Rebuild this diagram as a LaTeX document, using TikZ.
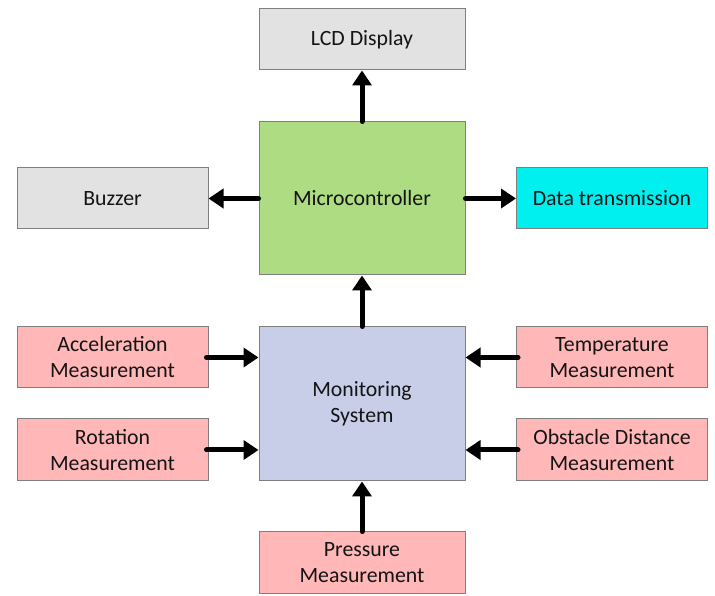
\documentclass[tikz,border=0pt]{standalone}
\usepackage{fontspec}
\setmainfont{Carlito}
\usetikzlibrary{positioning,calc,arrows.meta}

\definecolor{boxline}{RGB}{127,127,127}
\definecolor{greybox}{RGB}{226,226,226}
\definecolor{greenbox}{RGB}{174,220,130}
\definecolor{cyanbox}{RGB}{0,240,240}
\definecolor{bluebox}{RGB}{200,206,232}
\definecolor{pinkbox}{RGB}{255,183,183}
\definecolor{textcol}{RGB}{20,20,20}

\begin{document}
\begin{tikzpicture}
    [x=1pt,y=1pt,
     block/.style={draw=boxline,line width=1pt,align=center,inner sep=0pt,
                   text=textcol,font=\fontsize{21.8}{26}\selectfont},
     small/.style={block,minimum width=191,minimum height=61},
     big/.style={block,minimum width=206,minimum height=153},
     wide/.style={block,minimum width=206,minimum height=61},
     link/.style={line width=5pt,line cap=round,-{Triangle[length=15pt,width=19pt]}}]
    \useasboundingbox (0, 0) rectangle (715, 596);

    % Controller
    \node (mc) at (362, 397.5) [big,fill=greenbox] {Microcontroller};
    \node (lcd) at (362, 556.5) [wide,fill=greybox] {LCD Display};
    \node (buz) at (112.5, 397.5) [small,fill=greybox] {Buzzer};
    \node (tx) at (612, 397.5) [small,fill=cyanbox] {Data transmission};

    % Monitoring
    \node (mon) at (362, 192) [big,minimum height=154,fill=bluebox] {Monitoring\\System};
    \node (acc) at (112.5, 238.5) [small,fill=pinkbox] {Acceleration\\Measurement};
    \node (rot) at (112.5, 146) [small,minimum height=62,fill=pinkbox] {Rotation\\Measurement};
    \node (tmp) at (612, 238.5) [small,fill=pinkbox] {Temperature\\Measurement};
    \node (obs) at (612, 146) [small,minimum height=62,fill=pinkbox] {Obstacle Distance\\Measurement};
    \node (prs) at (362, 33) [wide,minimum height=62,fill=pinkbox] {Pressure\\Measurement};

    \draw [link] (mc) -- (lcd);
    \draw [link] (mc.west) -- (buz.east);
    \draw [link] (mc.east) -- (tx.west);
    \draw [link] (mon) -- (mc);
    \draw [link] (prs) -- (mon);

    \draw [link] ($(acc.east) + (-2, 0)$) -- (acc.east -| mon.west);
    \draw [link] ($(rot.east) + (-2, 0)$) -- (rot.east -| mon.west);
    \draw [link] ($(tmp.west) + (2, 0)$) -- (tmp.west -| mon.east);
    \draw [link] ($(obs.west) + (2, 0)$) -- (obs.west -| mon.east);
\end{tikzpicture}
\end{document}
